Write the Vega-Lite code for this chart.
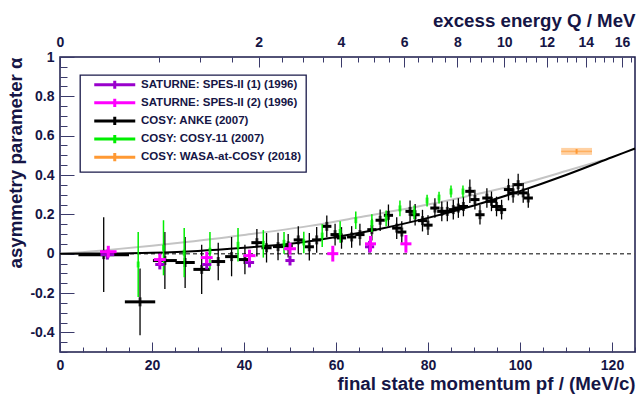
{
  "$schema": "https://vega.github.io/schema/vega-lite/v6.json",
  "width": 575,
  "height": 295,
  "autosize": "none",
  "padding": {"left": 60, "top": 57, "right": 3, "bottom": 47},
  "background": "white",
  "config": {
    "font": "Liberation Sans",
    "view": {"stroke": "#1a1a4a", "strokeWidth": 1.5},
    "axis": {
      "domain": false, "grid": false,
      "labelFont": "Liberation Sans", "labelFontWeight": "bold", "labelFontSize": 14, "labelColor": "#151545",
      "titleFont": "Liberation Sans", "titleFontWeight": "bold", "titleFontSize": 18.7, "titleColor": "#151545",
      "tickColor": "#3a3a6a", "tickWidth": 1, "labelOverlap": false, "labelFlush": false
    },
    "legend": {
      "orient": "none", "legendX": 20, "legendY": 18, "padding": 4,
      "strokeColor": "#1a1a4a", "strokeWidth": 1.3, "fillColor": "white",
      "labelFont": "Liberation Sans", "labelFontWeight": "bold", "labelFontSize": 11.5, "labelColor": "#151545",
      "labelLimit": 400,
      "symbolType": "M-10,0H10M0,-2V2", "symbolSize": 16.81, "symbolStrokeWidth": 3, "symbolOpacity": 1,
      "symbolOffset": 25,
      "rowPadding": -2.9, "labelOffset": 20.5
    }
  },
  "datasets": {
    "zero": [{"p": 0, "a": 0}, {"p": 125, "a": 0}],
    "grey": [
      {"p": 0, "a": 0}, {"p": 4, "a": 0.006}, {"p": 10, "a": 0.018}, {"p": 20, "a": 0.04}, {"p": 28, "a": 0.06},
      {"p": 40, "a": 0.095}, {"p": 54, "a": 0.14}, {"p": 65, "a": 0.185}, {"p": 80, "a": 0.25}, {"p": 90, "a": 0.3},
      {"p": 102, "a": 0.366}, {"p": 110, "a": 0.42}, {"p": 118, "a": 0.475}
    ],
    "black": [
      {"p": 0, "a": 0}, {"p": 10, "a": 0.001}, {"p": 20, "a": 0.005}, {"p": 30, "a": 0.014}, {"p": 40, "a": 0.03},
      {"p": 50, "a": 0.05}, {"p": 60, "a": 0.085}, {"p": 70, "a": 0.128}, {"p": 80, "a": 0.182}, {"p": 90, "a": 0.245},
      {"p": 100, "a": 0.318}, {"p": 110, "a": 0.4}, {"p": 120, "a": 0.49}, {"p": 125, "a": 0.535}
    ],
    "anke": [
      {"p": 9.5, "a": -0.005, "e": 0.19, "dx": 5.5},
      {"p": 17.4, "a": -0.245, "e": 0.17, "dx": 3.3},
      {"p": 22.8, "a": -0.035, "e": 0.145, "dx": 2.6},
      {"p": 27.2, "a": -0.045, "e": 0.13, "dx": 2.1},
      {"p": 30.8, "a": -0.08, "e": 0.125, "dx": 1.8},
      {"p": 34.4, "a": -0.04, "e": 0.095, "dx": 1.5},
      {"p": 37.3, "a": -0.015, "e": 0.1, "dx": 1.4},
      {"p": 40.2, "a": -0.03, "e": 0.075, "dx": 1.3},
      {"p": 42.8, "a": 0.056, "e": 0.07, "dx": 1.2},
      {"p": 44.9, "a": 0.03, "e": 0.075, "dx": 1.1},
      {"p": 47.4, "a": 0.036, "e": 0.07, "dx": 1.1},
      {"p": 49.6, "a": 0.04, "e": 0.06, "dx": 1.0},
      {"p": 51.8, "a": 0.07, "e": 0.07, "dx": 1.0},
      {"p": 54.2, "a": 0.035, "e": 0.07, "dx": 1.0},
      {"p": 55.8, "a": 0.07, "e": 0.065, "dx": 1.0},
      {"p": 58.0, "a": 0.139, "e": 0.055, "dx": 1.0},
      {"p": 59.8, "a": 0.097, "e": 0.055, "dx": 1.0},
      {"p": 61.2, "a": 0.08, "e": 0.055, "dx": 1.0},
      {"p": 63.4, "a": 0.085, "e": 0.055, "dx": 1.0},
      {"p": 65.2, "a": 0.097, "e": 0.055, "dx": 1.0},
      {"p": 67.8, "a": 0.122, "e": 0.055, "dx": 1.0},
      {"p": 69.6, "a": 0.17, "e": 0.055, "dx": 1.0},
      {"p": 71.4, "a": 0.195, "e": 0.055, "dx": 1.0},
      {"p": 73.2, "a": 0.13, "e": 0.055, "dx": 1.0},
      {"p": 74.3, "a": 0.11, "e": 0.055, "dx": 1.0},
      {"p": 76.1, "a": 0.215, "e": 0.055, "dx": 1.0},
      {"p": 77.2, "a": 0.198, "e": 0.055, "dx": 1.0},
      {"p": 78.8, "a": 0.168, "e": 0.055, "dx": 1.0},
      {"p": 80.0, "a": 0.145, "e": 0.05, "dx": 1.0},
      {"p": 81.5, "a": 0.232, "e": 0.05, "dx": 1.0},
      {"p": 83.0, "a": 0.215, "e": 0.05, "dx": 1.0},
      {"p": 84.2, "a": 0.215, "e": 0.05, "dx": 1.0},
      {"p": 85.5, "a": 0.224, "e": 0.05, "dx": 1.0},
      {"p": 86.6, "a": 0.232, "e": 0.05, "dx": 1.0},
      {"p": 87.7, "a": 0.24, "e": 0.05, "dx": 1.0},
      {"p": 89.1, "a": 0.317, "e": 0.06, "dx": 1.0},
      {"p": 90.2, "a": 0.275, "e": 0.05, "dx": 1.0},
      {"p": 91.3, "a": 0.198, "e": 0.05, "dx": 1.0},
      {"p": 92.8, "a": 0.283, "e": 0.05, "dx": 1.0},
      {"p": 93.8, "a": 0.266, "e": 0.05, "dx": 1.0},
      {"p": 94.9, "a": 0.24, "e": 0.05, "dx": 1.0},
      {"p": 96.0, "a": 0.224, "e": 0.05, "dx": 1.0},
      {"p": 97.5, "a": 0.326, "e": 0.055, "dx": 1.0},
      {"p": 98.5, "a": 0.309, "e": 0.05, "dx": 1.0},
      {"p": 99.6, "a": 0.351, "e": 0.055, "dx": 1.0},
      {"p": 100.7, "a": 0.309, "e": 0.05, "dx": 1.0},
      {"p": 101.8, "a": 0.283, "e": 0.05, "dx": 1.0}
    ],
    "cosy11": [
      {"p": 17.0, "a": -0.055, "e": 0.165},
      {"p": 22.5, "a": 0.03, "e": 0.14},
      {"p": 27.0, "a": 0.005, "e": 0.125},
      {"p": 32.6, "a": 0.015, "e": 0.095},
      {"p": 38.7, "a": 0.045, "e": 0.085},
      {"p": 44.2, "a": 0.05, "e": 0.07},
      {"p": 48.7, "a": 0.055, "e": 0.055},
      {"p": 53.0, "a": 0.057, "e": 0.055},
      {"p": 57.0, "a": 0.092, "e": 0.058},
      {"p": 60.9, "a": 0.11, "e": 0.055},
      {"p": 64.3, "a": 0.17, "e": 0.045},
      {"p": 67.8, "a": 0.155, "e": 0.045},
      {"p": 70.9, "a": 0.18, "e": 0.04},
      {"p": 73.9, "a": 0.23, "e": 0.04},
      {"p": 77.0, "a": 0.21, "e": 0.035},
      {"p": 79.8, "a": 0.27, "e": 0.03},
      {"p": 82.4, "a": 0.285, "e": 0.03},
      {"p": 85.0, "a": 0.316, "e": 0.03},
      {"p": 87.6, "a": 0.316, "e": 0.03}
    ],
    "spes1": [
      {"p": 10.3, "a": -0.005, "e": 0.025, "dx": 1.5},
      {"p": 21.7, "a": -0.055, "e": 0.025, "dx": 1.0},
      {"p": 31.9, "a": -0.055, "e": 0.025, "dx": 1.0},
      {"p": 41.2, "a": -0.045, "e": 0.025, "dx": 1.0},
      {"p": 50.0, "a": -0.035, "e": 0.025, "dx": 1.0},
      {"p": 67.3, "a": 0.035, "e": 0.03, "dx": 1.0}
    ],
    "spes2": [
      {"p": 10.5, "a": 0.01, "e": 0.03, "dx": 1.8},
      {"p": 21.7, "a": -0.03, "e": 0.03, "dx": 1.3},
      {"p": 31.9, "a": -0.02, "e": 0.03, "dx": 1.3},
      {"p": 41.2, "a": -0.01, "e": 0.03, "dx": 1.3},
      {"p": 50.0, "a": 0.025, "e": 0.03, "dx": 1.3},
      {"p": 59.3, "a": 0.0, "e": 0.04, "dx": 1.2},
      {"p": 67.5, "a": 0.05, "e": 0.04, "dx": 1.2},
      {"p": 75.2, "a": 0.05, "e": 0.045, "dx": 1.2}
    ],
    "wasa": [
      {"p": 112.3, "a": 0.52, "e": 0.012, "dx": 3.35}
    ]
  },
  "layer": [
    {
      "encoding": {
        "x": {
          "field": "p", "type": "quantitative",
          "scale": {"domain": [0, 125], "nice": false, "zero": false},
          "axis": {
            "orient": "bottom",
            "title": "final state momentum pf / (MeV/c)",
            "values": [0, 20, 40, 60, 80, 100, 120],
            "tickSize": -10,
            "labelPadding": 16,
            "titleAnchor": "end", "titleX": 575, "titleY": 37, "titleAlign": "right", "titleBaseline": "alphabetic"
          }
        },
        "y": {
          "field": "a", "type": "quantitative",
          "scale": {"domain": [-0.5, 1], "nice": false, "zero": false},
          "axis": {
            "orient": "left",
            "title": "asymmetry parameter α",
            "values": [-0.4, -0.2, 0, 0.2, 0.4, 0.6, 0.8, 1],
            "labelExpr": "'' + round(datum.value*10)/10",
            "tickSize": -14,
            "labelPadding": 20,
            "titleAnchor": "end", "titleX": -39, "titleY": 0, "titleAlign": "right", "titleAngle": 270, "titleBaseline": "alphabetic"
          }
        }
      },
      "layer": [
        {
          "data": {"name": "zero"},
          "mark": {"type": "line", "strokeDash": [4, 3], "color": "#555555", "strokeWidth": 1.5}
        },
        {
          "data": {"name": "grey"},
          "mark": {"type": "line", "color": "#c4c4c4", "strokeWidth": 2, "interpolate": "monotone"}
        },
        {
          "data": {"name": "black"},
          "mark": {"type": "line", "color": "#000000", "strokeWidth": 2, "interpolate": "monotone"}
        },
        {
          "data": {"name": "anke"},
          "mark": {"type": "errorbar", "thickness": 1.3},
          "encoding": {
            "yError": {"field": "e"},
            "color": {
              "datum": "COSY: ANKE (2007)", "type": "nominal",
              "scale": {
                "domain": ["SATURNE: SPES-II (1) (1996)", "SATURNE: SPES-II (2) (1996)", "COSY: ANKE (2007)", "COSY: COSY-11 (2007)", "COSY: WASA-at-COSY (2018)"],
                "range": ["#9900cc", "#ff00ff", "#000000", "#00ee00", "#ff9933"]
              },
              "legend": {"title": null, "labelExpr": "datum.label + '\u2003\u00a0'"}
            }
          }
        },
        {
          "data": {"name": "anke"},
          "mark": {"type": "errorbar", "thickness": 3},
          "encoding": {
            "xError": {"field": "dx"},
            "color": {"datum": "COSY: ANKE (2007)", "type": "nominal"}
          }
        },
        {
          "data": {"name": "anke"},
          "mark": {"type": "tick", "orient": "vertical", "thickness": 3, "size": 9},
          "encoding": {"color": {"datum": "COSY: ANKE (2007)", "type": "nominal"}}
        },
        {
          "data": {"name": "cosy11"},
          "mark": {"type": "errorbar", "thickness": 1.5},
          "encoding": {
            "yError": {"field": "e"},
            "color": {"datum": "COSY: COSY-11 (2007)", "type": "nominal"}
          }
        },
        {
          "data": {"name": "cosy11"},
          "mark": {"type": "tick", "orient": "vertical", "thickness": 3, "size": 6},
          "encoding": {"color": {"datum": "COSY: COSY-11 (2007)", "type": "nominal"}}
        },
        {
          "data": {"name": "spes1"},
          "mark": {"type": "errorbar", "thickness": 3},
          "encoding": {
            "yError": {"field": "e"},
            "color": {"datum": "SATURNE: SPES-II (1) (1996)", "type": "nominal"}
          }
        },
        {
          "data": {"name": "spes1"},
          "mark": {"type": "errorbar", "thickness": 3},
          "encoding": {
            "xError": {"field": "dx"},
            "color": {"datum": "SATURNE: SPES-II (1) (1996)", "type": "nominal"}
          }
        },
        {
          "data": {"name": "spes2"},
          "mark": {"type": "errorbar", "thickness": 3},
          "encoding": {
            "yError": {"field": "e"},
            "color": {"datum": "SATURNE: SPES-II (2) (1996)", "type": "nominal"}
          }
        },
        {
          "data": {"name": "spes2"},
          "mark": {"type": "errorbar", "thickness": 3},
          "encoding": {
            "xError": {"field": "dx"},
            "color": {"datum": "SATURNE: SPES-II (2) (1996)", "type": "nominal"}
          }
        },
        {
          "data": {"name": "wasa"},
          "mark": {"type": "errorbar", "thickness": 7, "opacity": 0.45},
          "encoding": {
            "xError": {"field": "dx"},
            "color": {"datum": "COSY: WASA-at-COSY (2018)", "type": "nominal"}
          }
        },
        {
          "data": {"name": "wasa"},
          "mark": {"type": "errorbar", "thickness": 1.5, "opacity": 0.6},
          "encoding": {
            "xError": {"field": "dx"},
            "color": {"datum": "COSY: WASA-at-COSY (2018)", "type": "nominal"}
          }
        },
        {
          "data": {"name": "wasa"},
          "mark": {"type": "errorbar", "thickness": 2},
          "encoding": {
            "yError": {"field": "e"},
            "color": {"datum": "COSY: WASA-at-COSY (2018)", "type": "nominal"}
          }
        }
      ]
    },
    {
      "mark": {"type": "point", "opacity": 0},
      "encoding": {
        "x": {
          "datum": 0, "type": "quantitative",
          "scale": {"domain": [0, 125], "nice": false, "zero": false},
          "axis": {
            "orient": "bottom", "title": null, "labels": false,
            "values": [5, 10, 15, 25, 30, 35, 45, 50, 55, 65, 70, 75, 85, 90, 95, 105, 110, 115, 125],
            "tickSize": -5
          }
        },
        "y": {
          "datum": 0, "type": "quantitative",
          "scale": {"domain": [-0.5, 1], "nice": false, "zero": false},
          "axis": {
            "orient": "left", "title": null, "labels": false,
            "values": [-0.5,-0.45,-0.35,-0.3,-0.25,-0.15,-0.1,-0.05,0.05,0.1,0.15,0.25,0.3,0.35,0.45,0.5,0.55,0.65,0.7,0.75,0.85,0.9,0.95],
            "tickSize": -7
          }
        }
      }
    },
    {
      "mark": {"type": "point", "opacity": 0},
      "encoding": {
        "x": {
          "datum": 0, "type": "quantitative",
          "scale": {"type": "sqrt", "domain": [0, 16.75], "nice": false, "zero": false},
          "axis": {
            "orient": "top",
            "title": "excess energy Q / MeV",
            "values": [0, 2, 4, 6, 8, 10, 12, 14, 16],
            "tickSize": -10,
            "labelPadding": 18,
            "titleAnchor": "end", "titleX": 575, "titleY": -31, "titleAlign": "right", "titleBaseline": "alphabetic"
          }
        }
      }
    },
    {
      "mark": {"type": "point", "opacity": 0},
      "encoding": {
        "x": {
          "datum": 0, "type": "quantitative",
          "scale": {"type": "sqrt", "domain": [0, 16.75], "nice": false, "zero": false},
          "axis": {
            "orient": "top", "title": null, "labels": false,
            "values": [0.5,1,1.5,2.5,3,3.5,4.5,5,5.5,6.5,7,7.5,8.5,9,9.5,10.5,11,11.5,12.5,13,13.5,14.5,15,15.5,16.5],
            "tickSize": -5
          }
        }
      }
    }
  ],
  "resolve": {
    "scale": {"x": "independent", "y": "independent"},
    "axis": {"x": "independent", "y": "independent"}
  }
}
